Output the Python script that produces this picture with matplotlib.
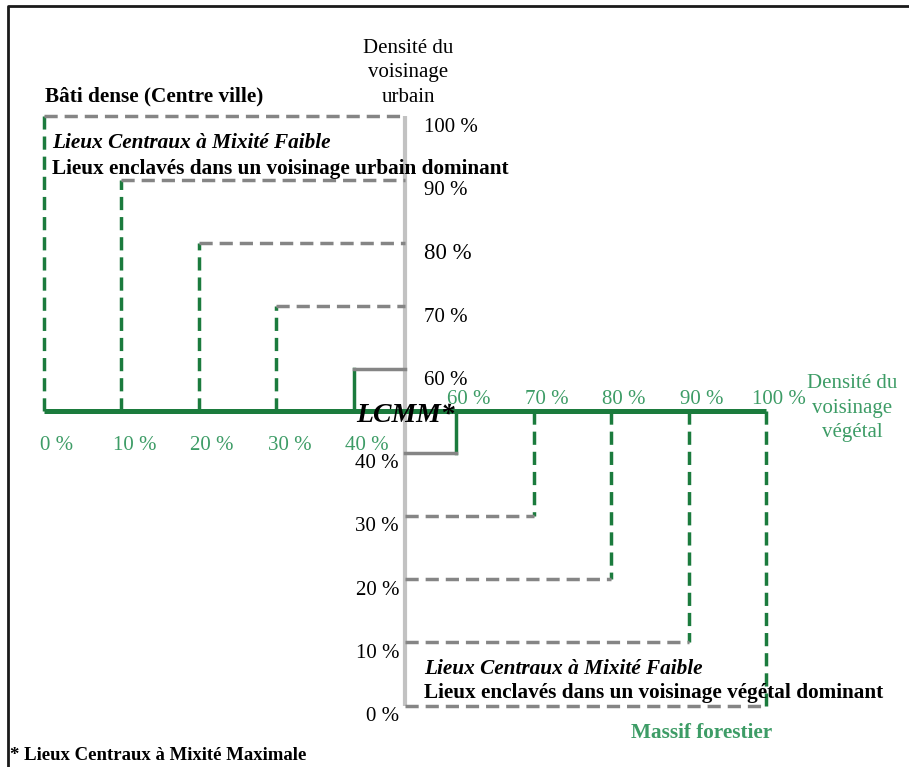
import numpy as np
import matplotlib.pyplot as plt
from matplotlib.lines import Line2D

plt.rcParams['font.family'] = ['Liberation Serif', 'DejaVu Serif']

# densité du voisinage végétal / urbain (%) pour chaque palier
green_upper = [0, 10, 20, 30, 40]
urban_upper = [100, 90, 80, 70, 60]
green_lower = [60, 70, 80, 90, 100]
urban_lower = [40, 30, 20, 10, 0]

DARK_GREEN = '#1b7b3d'
LIGHT_GREEN = '#3d9c66'
GRAY = '#858585'
LIGHT_GRAY = '#c2c2c2'

W, H = 909, 767
AX_X, AX_Y = 405, 411        # croisement des deux axes (pixels)
UX, UY = 77.5, 63.2          # pixels par tranche de 10 %


def pos(p):
    # schéma : la zone 40-60 % est resserrée autour du centre
    d = (np.asarray(p, dtype=float) - 50) / 10
    return d - 0.34 * np.sign(d)


fig = plt.figure(figsize=(W / 100, H / 100), dpi=100)
ax = fig.add_axes([0, 0, 1, 1])
ax.set_xlim(-AX_X / UX, (W - AX_X) / UX)
ax.set_ylim(-(H - AX_Y) / UY, AX_Y / UY)
ax.axis('off')

dash = (0, (3.8, 2.0))
LW = 2.5

# axes principaux
ax.plot([0, 0], [pos(100), pos(0)], color=LIGHT_GRAY, lw=3.0, solid_capstyle='butt', zorder=1)
ax.plot([pos(0), pos(100)], [0, 0], color=DARK_GREEN, lw=3.6, solid_capstyle='butt', zorder=3)

# paliers côté urbain dominant
for g, u in zip(green_upper, urban_upper):
    ls = '-' if g == 40 else dash
    ax.plot([pos(g), pos(g)], [0, pos(u)], color=DARK_GREEN, lw=LW, ls=ls, zorder=2)
    ax.plot([pos(g), 0], [pos(u), pos(u)], color=GRAY, lw=LW, ls=ls, zorder=2)

# paliers côté végétal dominant
for g, u in zip(green_lower, urban_lower):
    ls = '-' if g == 60 else dash
    ax.plot([pos(g), pos(g)], [0, pos(u)], color=DARK_GREEN, lw=LW, ls=ls, zorder=2)
    ax.plot([0, pos(g)], [pos(u), pos(u)], color=GRAY, lw=LW, ls=ls, zorder=2)

# graduations
for u in urban_upper:
    fs = 16.5 if u == 80 else 15
    ax.text(19 / UX, pos(u) - 11 / UY, f'{u} %', fontsize=fs, ha='left', va='center')
for u in urban_lower:
    ax.text(-6 / UX, pos(u) - 11 / UY, f'{u} %', fontsize=15, ha='right', va='center')
for g in green_upper:
    ax.text(pos(g) + 13 / UX, -35 / UY, f'{g} %', fontsize=15, color=LIGHT_GREEN,
            ha='center', va='center')
for g in green_lower:
    ax.text(pos(g) + 13 / UX, 11 / UY, f'{g} %', fontsize=15, color=LIGHT_GREEN,
            ha='center', va='center')


def label(x, y, s, **kw):
    # +3 px : compense la descente de la police
    fig.text(x / W, 1 - (y + 3) / H, s, va='center', **kw)


label(408, 70, 'Densité du\nvoisinage\nurbain', fontsize=15, ha='center',
      multialignment='center', linespacing=1.36)
label(852, 405, 'Densité du\nvoisinage\nvégétal', fontsize=15, ha='center',
      multialignment='center', linespacing=1.36, color=LIGHT_GREEN)

BOLD = 15.3
label(45, 93, 'Bâti dense (Centre ville)', fontsize=BOLD, fontweight='bold')
label(52, 140, 'Lieux Centraux à Mixité Faible', fontsize=BOLD, fontweight='bold', style='italic')
label(52, 166, 'Lieux enclavés dans un voisinage urbain dominant', fontsize=BOLD, fontweight='bold')

label(424, 666, 'Lieux Centraux à Mixité Faible', fontsize=BOLD, fontweight='bold', style='italic')
label(424, 690, 'Lieux enclavés dans un voisinage végétal dominant', fontsize=BOLD, fontweight='bold')
label(631, 730, 'Massif forestier', fontsize=BOLD, fontweight='bold', color=LIGHT_GREEN)

label(356, 412, 'LCMM*', fontsize=20, fontweight='bold', style='italic', zorder=5)
label(10, 753, '* Lieux Centraux à Mixité Maximale', fontsize=13.5, fontweight='bold')

# cadre (coupé à droite et en bas)
fig.add_artist(Line2D([8 / W, 8 / W, 1], [0, 1 - 6 / H, 1 - 6 / H], color='#1a1a1a', lw=2.0))

fig.savefig('out.png', dpi=100)
